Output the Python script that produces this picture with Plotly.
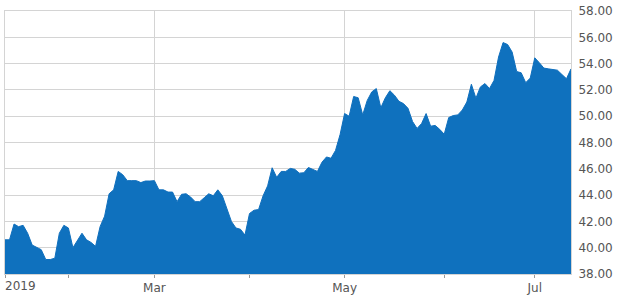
import pandas as pd
import plotly.graph_objects as go

# Trading days shown (US market holidays removed)
holidays = ["2019-01-21", "2019-02-18", "2019-04-19", "2019-05-27", "2019-07-04"]
dates = pd.bdate_range("2019-01-11", "2019-07-12", freq="C", holidays=holidays)

prices = [
    40.6, 40.6, 41.8, 41.6, 41.7, 41.1, 40.2, 40.0, 39.85, 39.1,
    39.1, 39.2, 41.1, 41.7, 41.5, 40.0, 40.6, 41.1, 40.6, 40.4,
    40.1, 41.6, 42.4, 44.1, 44.4, 45.8, 45.55, 45.1, 45.1, 45.1,
    44.95, 45.07, 45.07, 45.1, 44.4, 44.4, 44.23, 44.23, 43.5, 44.06,
    44.1, 43.85, 43.5, 43.5, 43.8, 44.1, 43.95, 44.4, 43.95, 43.0,
    42.0, 41.5, 41.4, 40.96, 42.6, 42.85, 42.9, 43.95, 44.7, 46.08,
    45.35, 45.8, 45.8, 46.03, 45.96, 45.67, 45.7, 46.1, 45.98, 45.8,
    46.5, 46.9, 46.8, 47.4, 48.6, 50.2, 50.0, 51.5, 51.4, 50.1,
    51.2, 51.85, 52.1, 50.64, 51.4, 51.94, 51.6, 51.13, 50.96, 50.6,
    49.6, 49.07, 49.44, 50.2, 49.24, 49.3, 49.0, 48.63, 49.9, 50.05,
    50.1, 50.47, 51.08, 52.43, 51.37, 52.23, 52.48, 52.1, 52.72, 54.5,
    55.6, 55.45, 54.88, 53.4, 53.3, 52.55, 52.9, 54.44, 54.07, 53.66,
    53.6, 53.53, 53.5, 53.17, 52.85, 53.6,
]

major_dates = ["2019-01-11", "2019-03-01", "2019-05-01", "2019-07-01"]
major_labels = ["", "Mar", "May", "Jul"]
minor_dates = ["2019-02-01", "2019-04-01", "2019-06-03"]
first_label = "2019"
y_ticks = [38, 40, 42, 44, 46, 48, 50, 52, 54, 56, 58]

date_str = [d.strftime("%Y-%m-%d") for d in dates]
pos = {d: i for i, d in enumerate(date_str)}
xs = list(range(len(date_str)))

fig = go.Figure()
fig.add_trace(go.Scatter(
    x=xs, y=prices, mode="lines", fill="tozeroy",
    line=dict(color="#0f6fbd", width=1),
    fillcolor="#0f71be", hoverinfo="skip",
))

grid = "#d4d4d4"
font_col = "#555555"
fig.update_layout(
    width=617, height=299,
    margin=dict(l=4, r=42, t=7, b=21),
    paper_bgcolor="white", plot_bgcolor="white",
    showlegend=False,
    font=dict(family="DejaVu Sans, Verdana, sans-serif", size=12, color=font_col),
    xaxis=dict(
        range=[0, len(xs) - 1],
        tickmode="array",
        tickvals=[pos[d] for d in major_dates],
        ticktext=major_labels,
        ticks="outside", ticklen=3, tickcolor="#999999",
        showgrid=True, gridcolor=grid, gridwidth=1,
        showline=True, linecolor=grid, mirror=True,
        zeroline=False,
        minor=dict(tickmode="array", tickvals=[pos[d] for d in minor_dates],
                   ticks="outside", ticklen=3, tickcolor="#999999", showgrid=False),
        tickfont=dict(size=12, color=font_col),
    ),
    yaxis=dict(
        range=[37.999, 58.001], side="right",
        tickmode="array", tickvals=y_ticks,
        ticktext=[f"{v:.2f}" for v in y_ticks],
        showgrid=True, gridcolor=grid, gridwidth=1,
        showline=True, linecolor=grid, mirror=True,
        zeroline=False, ticks="",
        ticklabelstandoff=4,
        ticklabeloverflow="allow",
        tickfont=dict(size=12, color=font_col),
    ),
)
fig.add_annotation(
    x=0, y=0, xref="x", yref="paper", text=first_label,
    showarrow=False, xanchor="left", yanchor="top", yshift=-3, xshift=-2,
    font=dict(size=12, color=font_col),
)
fig.write_html("out.html")
